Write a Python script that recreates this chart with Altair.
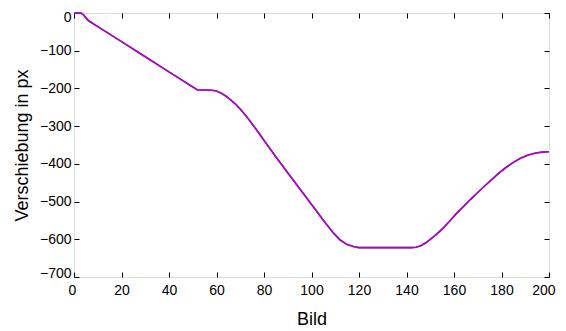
import altair as alt
import pandas as pd

frames = [0, 3, 4, 6, 10, 20, 30, 40, 52, 56, 58, 60, 62, 64, 66, 68, 70, 72, 74, 76, 78, 80,
          85, 90, 95, 100, 105, 109, 112, 115, 118, 120, 130, 142, 144, 146, 148, 150, 152,
          155, 158, 161, 164, 167, 170, 173, 176, 179, 182, 185, 188, 191, 194, 197, 200]
shift_a = [0, 0, -5, -20, -36, -76, -116, -156, -204, -204, -205, -207, -213, -221, -231, -242,
           -255, -270, -286, -303, -320, -338, -382, -424, -466, -508, -550, -582, -602, -614,
           -620, -622, -622, -622, -621, -617, -610, -600, -590, -573, -553, -532, -513, -494,
           -476, -458, -441, -424, -409, -396, -385, -377, -372, -369, -368]
shift_b = [0, 0, -5, -20, -36, -76, -116, -156, -204, -204, -205, -207, -212, -220, -230, -241,
           -254, -269, -285, -302, -319, -337, -381, -423, -465, -507, -549, -581, -601, -614,
           -620, -622, -622, -622, -621, -617, -610, -600, -590, -573, -553, -532, -513, -494,
           -476, -458, -441, -424, -409, -396, -385, -377, -372, -369, -368]
x_ticks = list(range(0, 201, 20))
y_ticks = list(range(-700, 1, 100))

W, H = 475, 264
FONT = "Liberation Sans"

df = pd.DataFrame({"Bild": frames * 2,
                   "Verschiebung": shift_b + shift_a,
                   "Serie": ["b"] * len(frames) + ["a"] * len(frames)})

xs = alt.Scale(domain=[0, 200], nice=False, zero=False)
ys = alt.Scale(domain=[-700, 0], nice=False, zero=False)

ax_main_x = alt.Axis(values=x_ticks, tickSize=0, domain=False, grid=False, labelPadding=6,
                     labelFont=FONT, labelFontSize=14, labelColor="black",
                     labelFlush=True, labelFlushOffset=6,
                     title="Bild", titleFont=FONT, titleFontSize=18, titleFontWeight="normal",
                     titleColor="black", titlePadding=13)
ax_main_y = alt.Axis(values=y_ticks, tickSize=0, domain=False, grid=False, labelPadding=3,
                     labelFont=FONT, labelFontSize=14, labelColor="black",
                     labelFlush=True, labelFlushOffset=3,
                     title="Verschiebung in px", titleFont=FONT, titleFontSize=18,
                     titleFontWeight="normal", titleColor="black", titlePadding=8)

def tick_axis(vals, orient, offset):
    return alt.Axis(values=vals, orient=orient, offset=offset, tickSize=5, tickColor="black",
                    tickWidth=1, labels=False, domain=False, grid=False, title=None)

base = alt.Chart(df)

l1 = base.transform_filter(alt.datum.Serie == "b").mark_line(color="#3a6fd8", strokeWidth=1.6).encode(
    x=alt.X("Bild:Q", scale=xs, axis=ax_main_x),
    y=alt.Y("Verschiebung:Q", scale=ys, axis=ax_main_y),
    detail="Serie:N")

l2 = base.transform_filter(alt.datum.Serie == "a").mark_line(color="#b800b8", strokeWidth=1.6).encode(
    x=alt.X("Bild:Q", scale=xs, axis=tick_axis(x_ticks, "top", -H)),
    y=alt.Y("Verschiebung:Q", scale=ys, axis=tick_axis(y_ticks, "right", -W)),
    detail="Serie:N")

l3 = base.transform_filter(alt.datum.Serie == "a").mark_line(color="#b800b8", strokeWidth=0.01, opacity=0).encode(
    x=alt.X("Bild:Q", scale=xs, axis=tick_axis(x_ticks, "bottom", -H)),
    y=alt.Y("Verschiebung:Q", scale=ys, axis=tick_axis(y_ticks, "left", -W)),
    detail="Serie:N")

chart = alt.layer(l1, l2, l3).resolve_axis(x="independent", y="independent").properties(
    width=W, height=H,
    autosize=alt.AutoSizeParams(type="none"),
    padding={"left": 66, "top": 5, "right": 9, "bottom": 50},
).configure_view(stroke="black", strokeWidth=1.2).configure(background="white")

chart.save("out.html", embed_options={"renderer": "svg", "actions": False})
